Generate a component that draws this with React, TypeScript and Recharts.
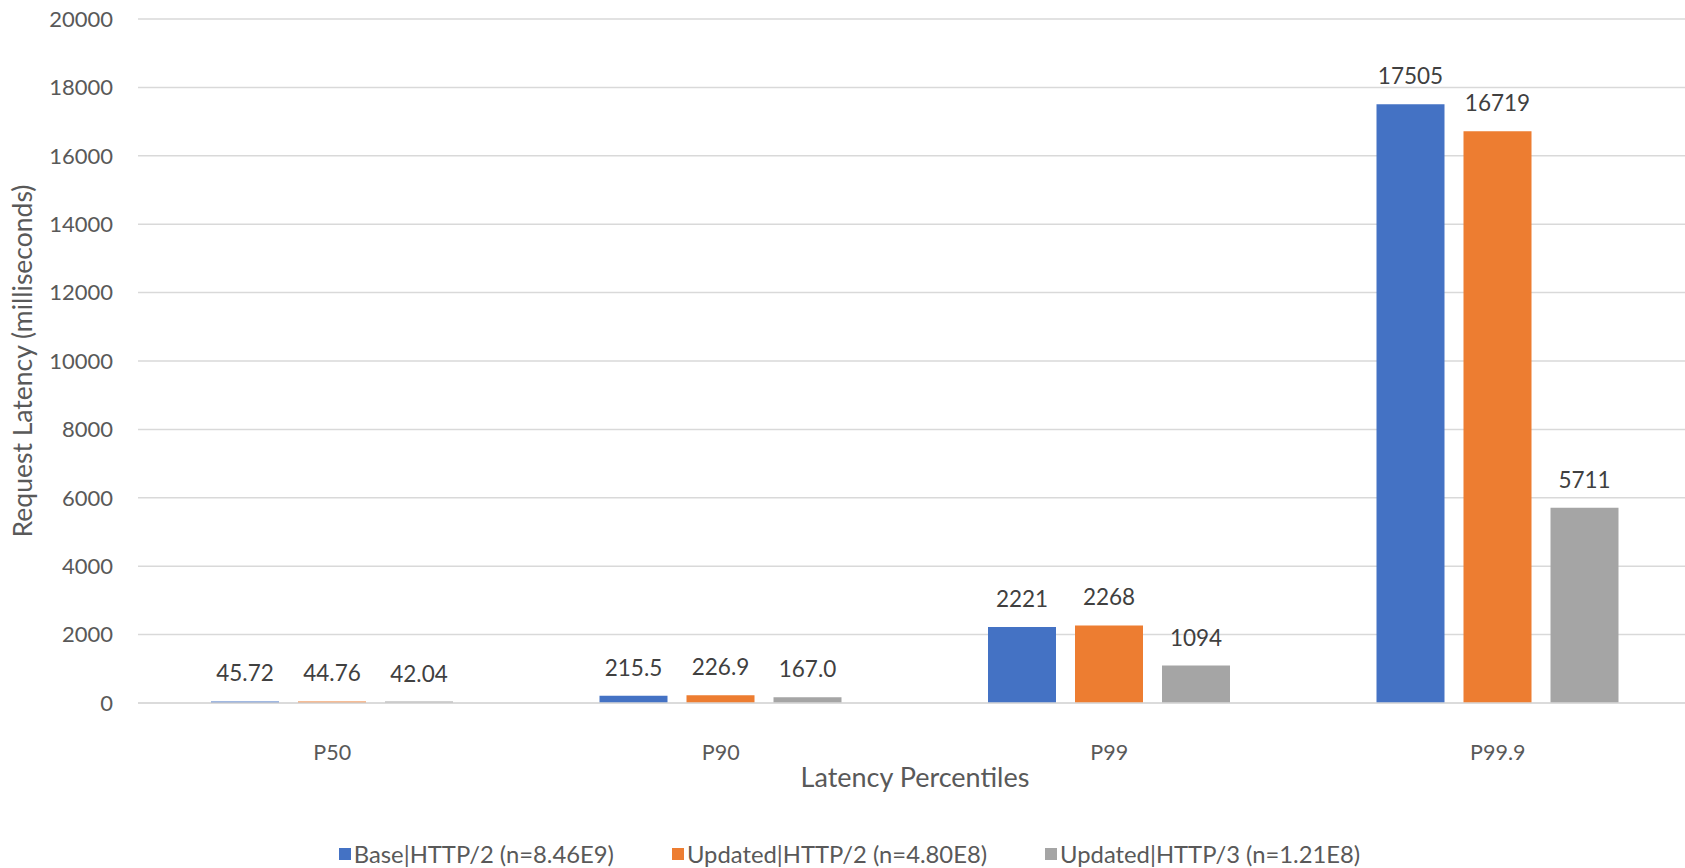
import React from 'react';
import { BarChart, Bar, XAxis, YAxis, CartesianGrid, Legend, LabelList } from 'recharts';

// values
const categories = ['P50', 'P90', 'P99', 'P99.9'];
const baseHttp2 = [45.72, 215.5, 2221, 17505];
const updatedHttp2 = [44.76, 226.9, 2268, 16719];
const updatedHttp3 = [42.04, 167.0, 1094, 5711];
const yTicks = [0, 2000, 4000, 6000, 8000, 10000, 12000, 14000, 16000, 18000, 20000];

const seriesNames = ['Base|HTTP/2 (n=8.46E9)', 'Updated|HTTP/2 (n=4.80E8)', 'Updated|HTTP/3 (n=1.21E8)'];
const seriesKeys = ['base', 'updated2', 'updated3'];
const colors = ['#4472C4', '#ED7D31', '#A5A5A5'];

const data = categories.map((name, i) => ({
  name,
  base: baseHttp2[i],
  updated2: updatedHttp2[i],
  updated3: updatedHttp3[i],
}));

const FONT = 'Lato, "Open Sans", sans-serif';

// excel-ish number format: 45.72, 215.5, 2221
const fmt = (v: any) => {
  const n = Number(v);
  if (n < 100) return n.toFixed(2);
  if (n < 1000) return n.toFixed(1);
  return n.toFixed(0);
};

// category label sits well below the axis line
const CategoryTick = (props: any) => {
  const { x, y, payload } = props;
  return (
    <text x={x} y={y + 57} textAnchor="middle" fontSize={21.5} fill="#595959" fontFamily={FONT}>
      {payload.value}
    </text>
  );
};

const LegendContent = () => (
  <div
    style={{
      display: 'flex',
      justifyContent: 'center',
      alignItems: 'center',
      height: 28,
      width: 1685,
      paddingLeft: 14,
      boxSizing: 'border-box',
      gap: 58,
      fontSize: 23.8,
      color: '#595959',
      fontFamily: FONT,
    }}
  >
    {seriesNames.map((n, i) => (
      <div key={n} style={{ display: 'flex', alignItems: 'center' }}>
        <span style={{ display: 'inline-block', width: 12, height: 12, background: colors[i], marginRight: 3 }} />
        {n}
      </div>
    ))}
  </div>
);

const App: React.FC = () => {
  return (
    <div
      style={{
        position: 'fixed',
        left: 0,
        top: 0,
        width: 1685,
        height: 868,
        overflow: 'hidden',
        background: '#fff',
      }}
    >
      <BarChart
        width={1700}
        height={868}
        data={data}
        margin={{ top: 19, right: 8, bottom: 0, left: 0 }}
        barCategoryGap={73}
        barGap={19}
        style={{ fontFamily: FONT }}
      >
        <CartesianGrid vertical={false} stroke="#D9D9D9" strokeWidth={1.5} />
        <XAxis
          dataKey="name"
          height={137}
          axisLine={{ stroke: '#D9D9D9', strokeWidth: 1.5 }}
          tickLine={false}
          tickSize={0}
          tickMargin={0}
          tick={<CategoryTick />}
          label={{ value: 'Latency Percentiles', position: 'insideBottom', offset: 53, fontSize: 27, fill: '#595959' }}
        />
        <YAxis
          width={138}
          domain={[0, 20000]}
          ticks={yTicks}
          interval={0}
          axisLine={false}
          tickLine={false}
          tickSize={0}
          tickMargin={25}
          tick={{ fontSize: 22, fill: '#595959' }}
          label={{ value: 'Request Latency (milliseconds)', angle: -90, position: 'center', dx: -46, fontSize: 26.5, fill: '#595959' }}
        />
        <Legend verticalAlign="bottom" align="center" content={LegendContent} wrapperStyle={{ left: 0, width: 1685 }} />
        {seriesKeys.map((k, i) => (
          <Bar key={k} dataKey={k} name={seriesNames[i]} fill={colors[i]} isAnimationActive={false}>
            <LabelList dataKey={k} position="top" offset={20} formatter={fmt} fill="#404040" fontSize={22.5} />
          </Bar>
        ))}
      </BarChart>
    </div>
  );
};

export default App;
